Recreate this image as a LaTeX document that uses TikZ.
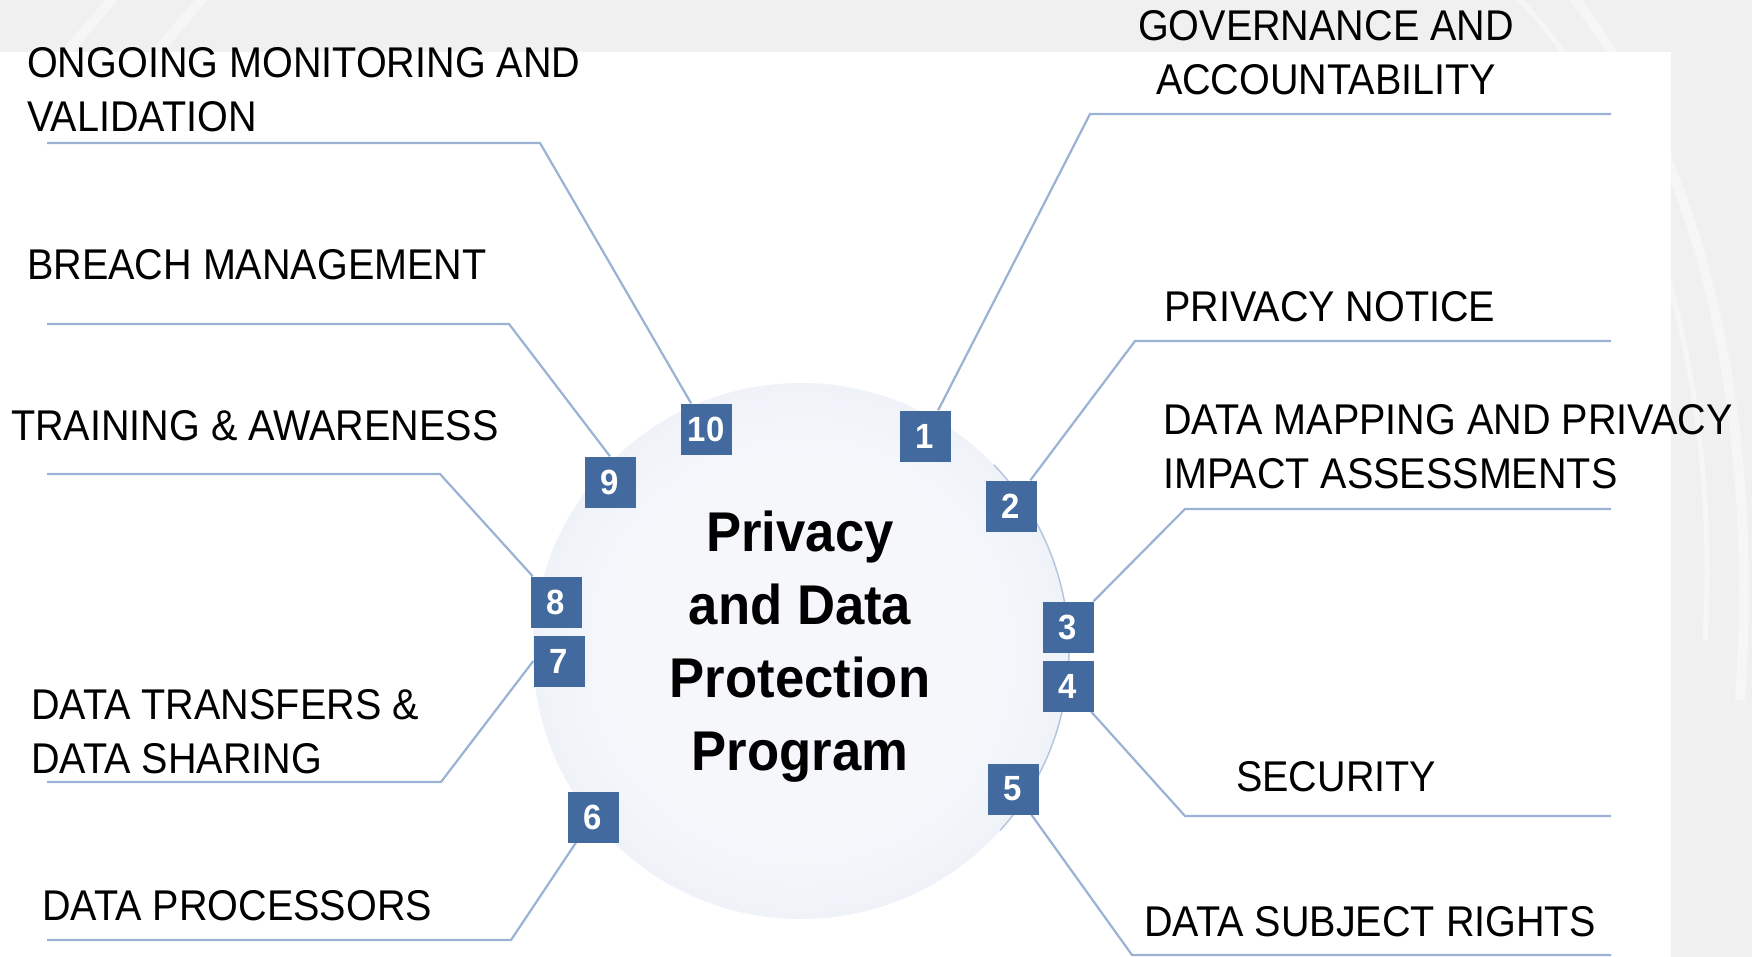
\documentclass[tikz,border=0pt]{standalone}
\usepackage{fontspec}
\setmainfont{Liberation Sans}
\newfontfamily\lblfont[FakeStretch=0.92]{Liberation Sans}
\newfontfamily\headfont[FakeStretch=0.94]{Liberation Sans}
\definecolor{boxblue}{RGB}{66,106,158}
\definecolor{linkblue}{RGB}{155,178,212}
\definecolor{bggrey}{RGB}{240,240,241}
\definecolor{discin}{RGB}{245,247,251}
\definecolor{discout}{RGB}{217,225,237}
\definecolor{discedge}{RGB}{182,198,221}
\pgfdeclareradialshading{discshade}{\pgfpoint{0bp}{0bp}}{color(0bp)=(discin); color(18bp)=(discin); color(50bp)=(discout)}
\pgfdeclarelayer{back}
\pgfsetlayers{back,main}
\begin{document}
\begin{tikzpicture}[x=1pt,y=-1pt,
  numbox/.style={fill=boxblue, text=white, font=\headfont\fontsize{35}{35}\selectfont\bfseries,
    minimum size=51pt, inner sep=0pt},
  lbl/.style={font=\lblfont\fontsize{43}{54}\selectfont, inner sep=0pt, anchor=base west, align=left},
  link/.style={draw=linkblue, line width=2.2pt},
]
\path[use as bounding box] (0,0) rectangle (1752,957);

% page backdrop, white panel and the central disc
\begin{pgfonlayer}{back}
  \fill[bggrey] (0,0) rectangle (1752,957);
  \begin{scope}
    \clip (0,0) rectangle (1752,957);
    \draw[white, line width=10pt, opacity=0.45] (1560,-20) .. controls (1700,150) and (1760,400) .. (1740,700);
    \draw[white, line width=5pt, opacity=0.45] (1500,-20) .. controls (1650,120) and (1720,380) .. (1705,640);
    \draw[white, line width=10pt, opacity=0.45] (60,60) -- (120,-10);
    \draw[white, line width=10pt, opacity=0.45] (150,60) -- (210,-10);
  \end{scope}
  \fill[white] (0,52) rectangle (1671,957);
  \coordinate (c) at (801,651);
  \shade[shading=discshade] (c) circle (268);
  \draw[discedge, line width=1.5pt] (c) ++(42:268) arc[start angle=42, end angle=-44, radius=268];
\end{pgfonlayer}

% centre title (base anchor sits on the last line)
\node[font=\headfont\fontsize{56}{73}\selectfont\bfseries, align=center, anchor=base, inner sep=0pt]
  (title) at (800,770) {Privacy\\and Data\\Protection\\Program};

% numbered boxes around the disc
\node[numbox] (n1)  at (925,436) {1};
\node[numbox] (n2)  at (1011,506) {2};
\node[numbox] (n3)  at (1068,627) {3};
\node[numbox] (n4)  at (1068,686) {4};
\node[numbox] (n5)  at (1013,789) {5};
\node[numbox] (n6)  at (593,817) {6};
\node[numbox] (n7)  at (559,661) {7};
\node[numbox] (n8)  at (556,602) {8};
\node[numbox] (n9)  at (610,482) {9};
\node[numbox] (n10) at (706,429) {10};

% labels
\node[lbl] (t10) at (27,132) {ONGOING MONITORING AND\\VALIDATION};
\node[lbl] (t9)  at (27,280) {BREACH MANAGEMENT};
\node[lbl] (t8)  at (11,440) {TRAINING \& AWARENESS};
\node[lbl] (t7)  at (31,773) {DATA TRANSFERS \&\\DATA SHARING};
\node[lbl] (t6)  at (42,920) {DATA PROCESSORS};
\node[lbl, anchor=base, align=center] (t1) at (1326,95) {GOVERNANCE AND\\ACCOUNTABILITY};
\node[lbl] (t2)  at (1164,321) {PRIVACY NOTICE};
\node[lbl] (t3)  at (1163,488) {DATA MAPPING AND PRIVACY\\IMPACT ASSESSMENTS};
\node[lbl] (t4)  at (1236,791) {SECURITY};
\node[lbl] (t5)  at (1144,936) {DATA SUBJECT RIGHTS};

% leader line knees and ends
\coordinate (k10) at (540,143);  \coordinate (e10) at (47,143);
\coordinate (k9)  at (509,324);  \coordinate (e9)  at (47,324);
\coordinate (k8)  at (440,474);  \coordinate (e8)  at (47,474);
\coordinate (k7)  at (441,782);  \coordinate (e7)  at (47,782);
\coordinate (k6)  at (511,940);  \coordinate (e6)  at (47,940);
\coordinate (k1)  at (1090,114); \coordinate (e1)  at (1611,114);
\coordinate (k2)  at (1135,341); \coordinate (e2)  at (1611,341);
\coordinate (k3)  at (1185,509); \coordinate (e3)  at (1611,509);
\coordinate (k4)  at (1185,816); \coordinate (e4)  at (1611,816);
\coordinate (k5)  at (1132,955); \coordinate (e5)  at (1611,955);

\begin{pgfonlayer}{back}
  \draw[link] (n10) -- (k10) -- (e10);
  \draw[link] (n9.north) -- (k9) -- (e9);
  \draw[link] (n8) -- (k8) -- (e8);
  \draw[link] (n7.west) -- (k7) -- (e7);
  \draw[link] (n6) -- (k6) -- (e6);
  \draw[link] (n1) -- (k1) -- (e1);
  \draw[link] (n2) -- (k2) -- (e2);
  \draw[link] (n3) -- (k3) -- (e3);
  \draw[link] (n4) -- (k4) -- (e4);
  \draw[link] (n5) -- (k5) -- (e5);
\end{pgfonlayer}
\end{tikzpicture}
\end{document}
